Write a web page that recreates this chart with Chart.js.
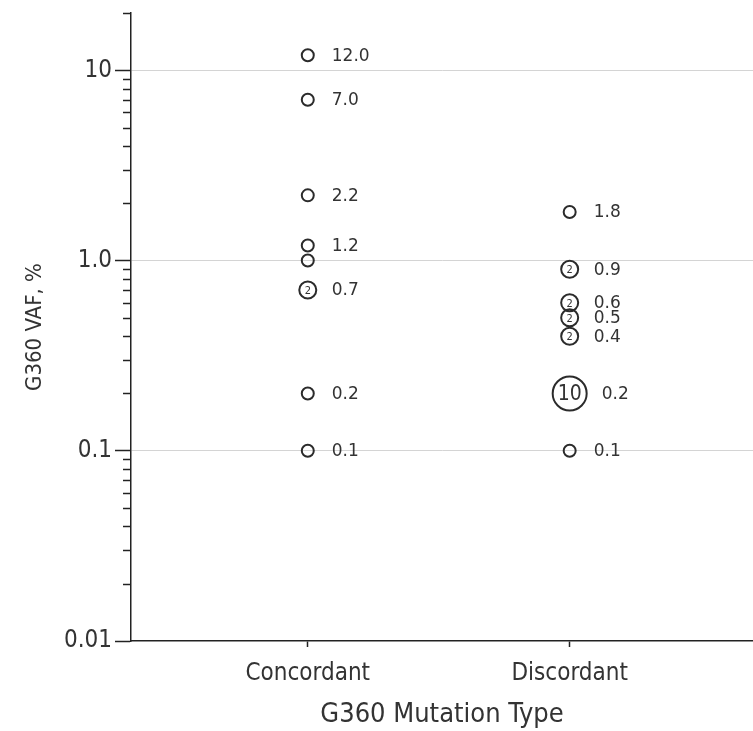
<!DOCTYPE html>
<html>
<head>
<meta charset="utf-8">
<script src="https://cdn.jsdelivr.net/npm/chart.js@4.4.1/dist/chart.umd.min.js"></script>
<style>
  html, body { margin: 0; padding: 0; background: #fff; overflow: hidden; }
  canvas { display: block; }
</style>
</head>
<body>
<canvas id="vafChart" width="753" height="731"></canvas>
<script>
// Categorias e valores
const categories = ["Concordant", "Discordant"];

const concordantVaf = [12.0, 7.0, 2.2, 1.2, 1.0, 0.7, 0.2, 0.1];
const concordantCount = [1, 1, 1, 1, 1, 2, 1, 1];
const concordantLabels = ["12.0", "7.0", "2.2", "1.2", "", "0.7", "0.2", "0.1"];

const discordantVaf = [1.8, 0.9, 0.6, 0.5, 0.4, 0.2, 0.1];
const discordantCount = [1, 2, 2, 2, 2, 10, 1];
const discordantLabels = ["1.8", "0.9", "0.6", "0.5", "0.4", "0.2", "0.1"];

const yMajorTicks = [0.01, 0.1, 1, 10];
const yMajorLabels = ["0.01", "0.1", "1.0", "10"];
const yMax = 20;

// ticks menores 2..9 de cada década
const yTickValues = [];
yMajorTicks.forEach((m) => {
  for (let k = 1; k <= 9; k++) {
    const v = +(m * k).toPrecision(3);
    if (v <= yMax) yTickValues.push(v);
  }
});
if (!yTickValues.includes(yMax)) yTickValues.push(yMax);

const isMajor = (v) => yMajorTicks.some((m) => Math.abs(m - v) < 1e-9);

function radiusFor(count) {
  if (count >= 10) return 17;
  if (count > 1) return 8.5;
  return 6;
}

const makeData = (idx, vals) => vals.map((v) => ({ x: idx + 1, y: v }));

const textColor = "#333";
const mainFont = "'DejaVu Sans Condensed', 'DejaVu Sans', sans-serif";

// --- desenha os números dentro dos círculos e os rótulos ao lado ---
const pointLabelsPlugin = {
  id: "pointLabels",
  afterDatasetsDraw(chart) {
    const ctx = chart.ctx;
    chart.data.datasets.forEach((ds, di) => {
      const meta = chart.getDatasetMeta(di);
      meta.data.forEach((pt, i) => {
        const count = ds.counts[i];
        const r = radiusFor(count);
        ctx.save();
        ctx.fillStyle = textColor;
        ctx.textBaseline = "middle";
        if (count > 1) {
          ctx.textAlign = "center";
          ctx.font = (count >= 10 ? "21px " : "11px ") + mainFont;
          ctx.fillText(String(count), pt.x, pt.y + 1);
        }
        const lbl = ds.labels[i];
        if (lbl) {
          ctx.textAlign = "left";
          ctx.font = "17px 'DejaVu Sans', sans-serif";
          ctx.fillText(lbl, pt.x + Math.max(24, r + 15), pt.y + 1);
        }
        ctx.restore();
      });
    });
  },
};

// --- ticks menores curtos no eixo Y ---
const minorTicksPlugin = {
  id: "minorTicks",
  afterDraw(chart) {
    const scale = chart.scales.y;
    const ctx = chart.ctx;
    ctx.save();
    ctx.strokeStyle = "#222";
    ctx.lineWidth = 1.5;
    scale.ticks.forEach((t) => {
      if (isMajor(t.value)) return;
      const y = Math.round(scale.getPixelForValue(t.value)) + 0.5;
      ctx.beginPath();
      ctx.moveTo(scale.right - 8, y);
      ctx.lineTo(scale.right, y);
      ctx.stroke();
    });
    ctx.restore();
  },
};

const ctxVaf = document.getElementById("vafChart");

new Chart(ctxVaf.getContext("2d"), {
  type: "scatter",
  data: {
    datasets: [
      {
        label: categories[0],
        data: makeData(0, concordantVaf),
        counts: concordantCount,
        labels: concordantLabels,
      },
      {
        label: categories[1],
        data: makeData(1, discordantVaf),
        counts: discordantCount,
        labels: discordantLabels,
      },
    ].map((ds) => ({
      ...ds,
      backgroundColor: "rgba(255,255,255,0)",
      borderColor: "#2b2b2b",
      borderWidth: 2,
      clip: false,
      pointRadius: (c) => radiusFor(ds.counts[c.dataIndex]),
      pointHoverRadius: (c) => radiusFor(ds.counts[c.dataIndex]),
    })),
  },
  options: {
    responsive: false,
    animation: false,
    layout: { autoPadding: false, padding: { top: 13, right: 0, left: 0, bottom: 0 } },
    plugins: {
      legend: { display: false },
      tooltip: { enabled: false },
    },
    scales: {
      x: {
        type: "linear",
        min: 0.325,
        max: 2.7,
        afterBuildTicks: (scale) => {
          scale.ticks = categories.map((_, i) => ({ value: i + 1 }));
        },
        afterFit: (scale) => {
          scale.height = 90;
          scale.paddingLeft = 0;
          scale.paddingRight = 0;
        },
        grid: {
          display: true,
          drawOnChartArea: false,
          drawTicks: true,
          tickLength: 6,
          tickColor: "#222",
          tickWidth: 1.5,
        },
        border: { display: true, color: "#222", width: 1.5 },
        ticks: {
          padding: 12,
          color: textColor,
          font: { family: mainFont, size: 24 },
          callback: (v) => categories[v - 1] || "",
        },
        title: {
          display: true,
          text: "G360 Mutation Type",
          color: textColor,
          font: { family: mainFont, size: 27 },
          padding: { top: 0, bottom: 0 },
        },
      },
      y: {
        type: "logarithmic",
        min: 0.01,
        max: yMax,
        afterBuildTicks: (scale) => {
          scale.ticks = yTickValues.map((v) => ({ value: v }));
        },
        afterFit: (scale) => {
          scale.width = 131;
          scale.paddingTop = 0;
          scale.paddingBottom = 0;
        },
        grid: {
          color: (c) =>
            c.tick && isMajor(c.tick.value) && c.tick.value > 0.01
              ? "#d4d4d4"
              : "rgba(0,0,0,0)",
          lineWidth: 1,
          drawTicks: true,
          tickLength: 16,
          tickColor: (c) =>
            c.tick && isMajor(c.tick.value) ? "#222" : "rgba(0,0,0,0)",
          tickWidth: 1.5,
        },
        border: { display: true, color: "#222", width: 1.5 },
        ticks: {
          autoSkip: false,
          padding: 3,
          color: textColor,
          font: { family: mainFont, size: 24 },
          callback: (v) => {
            const i = yMajorTicks.findIndex((m) => Math.abs(m - v) < 1e-9);
            return i >= 0 ? yMajorLabels[i] : "";
          },
        },
        title: {
          display: true,
          text: "G360 VAF, %",
          color: textColor,
          font: { family: mainFont, size: 22 },
          padding: { top: 22, bottom: 0 },
        },
      },
    },
  },
  plugins: [pointLabelsPlugin, minorTicksPlugin],
});
</script>
</body>
</html>
